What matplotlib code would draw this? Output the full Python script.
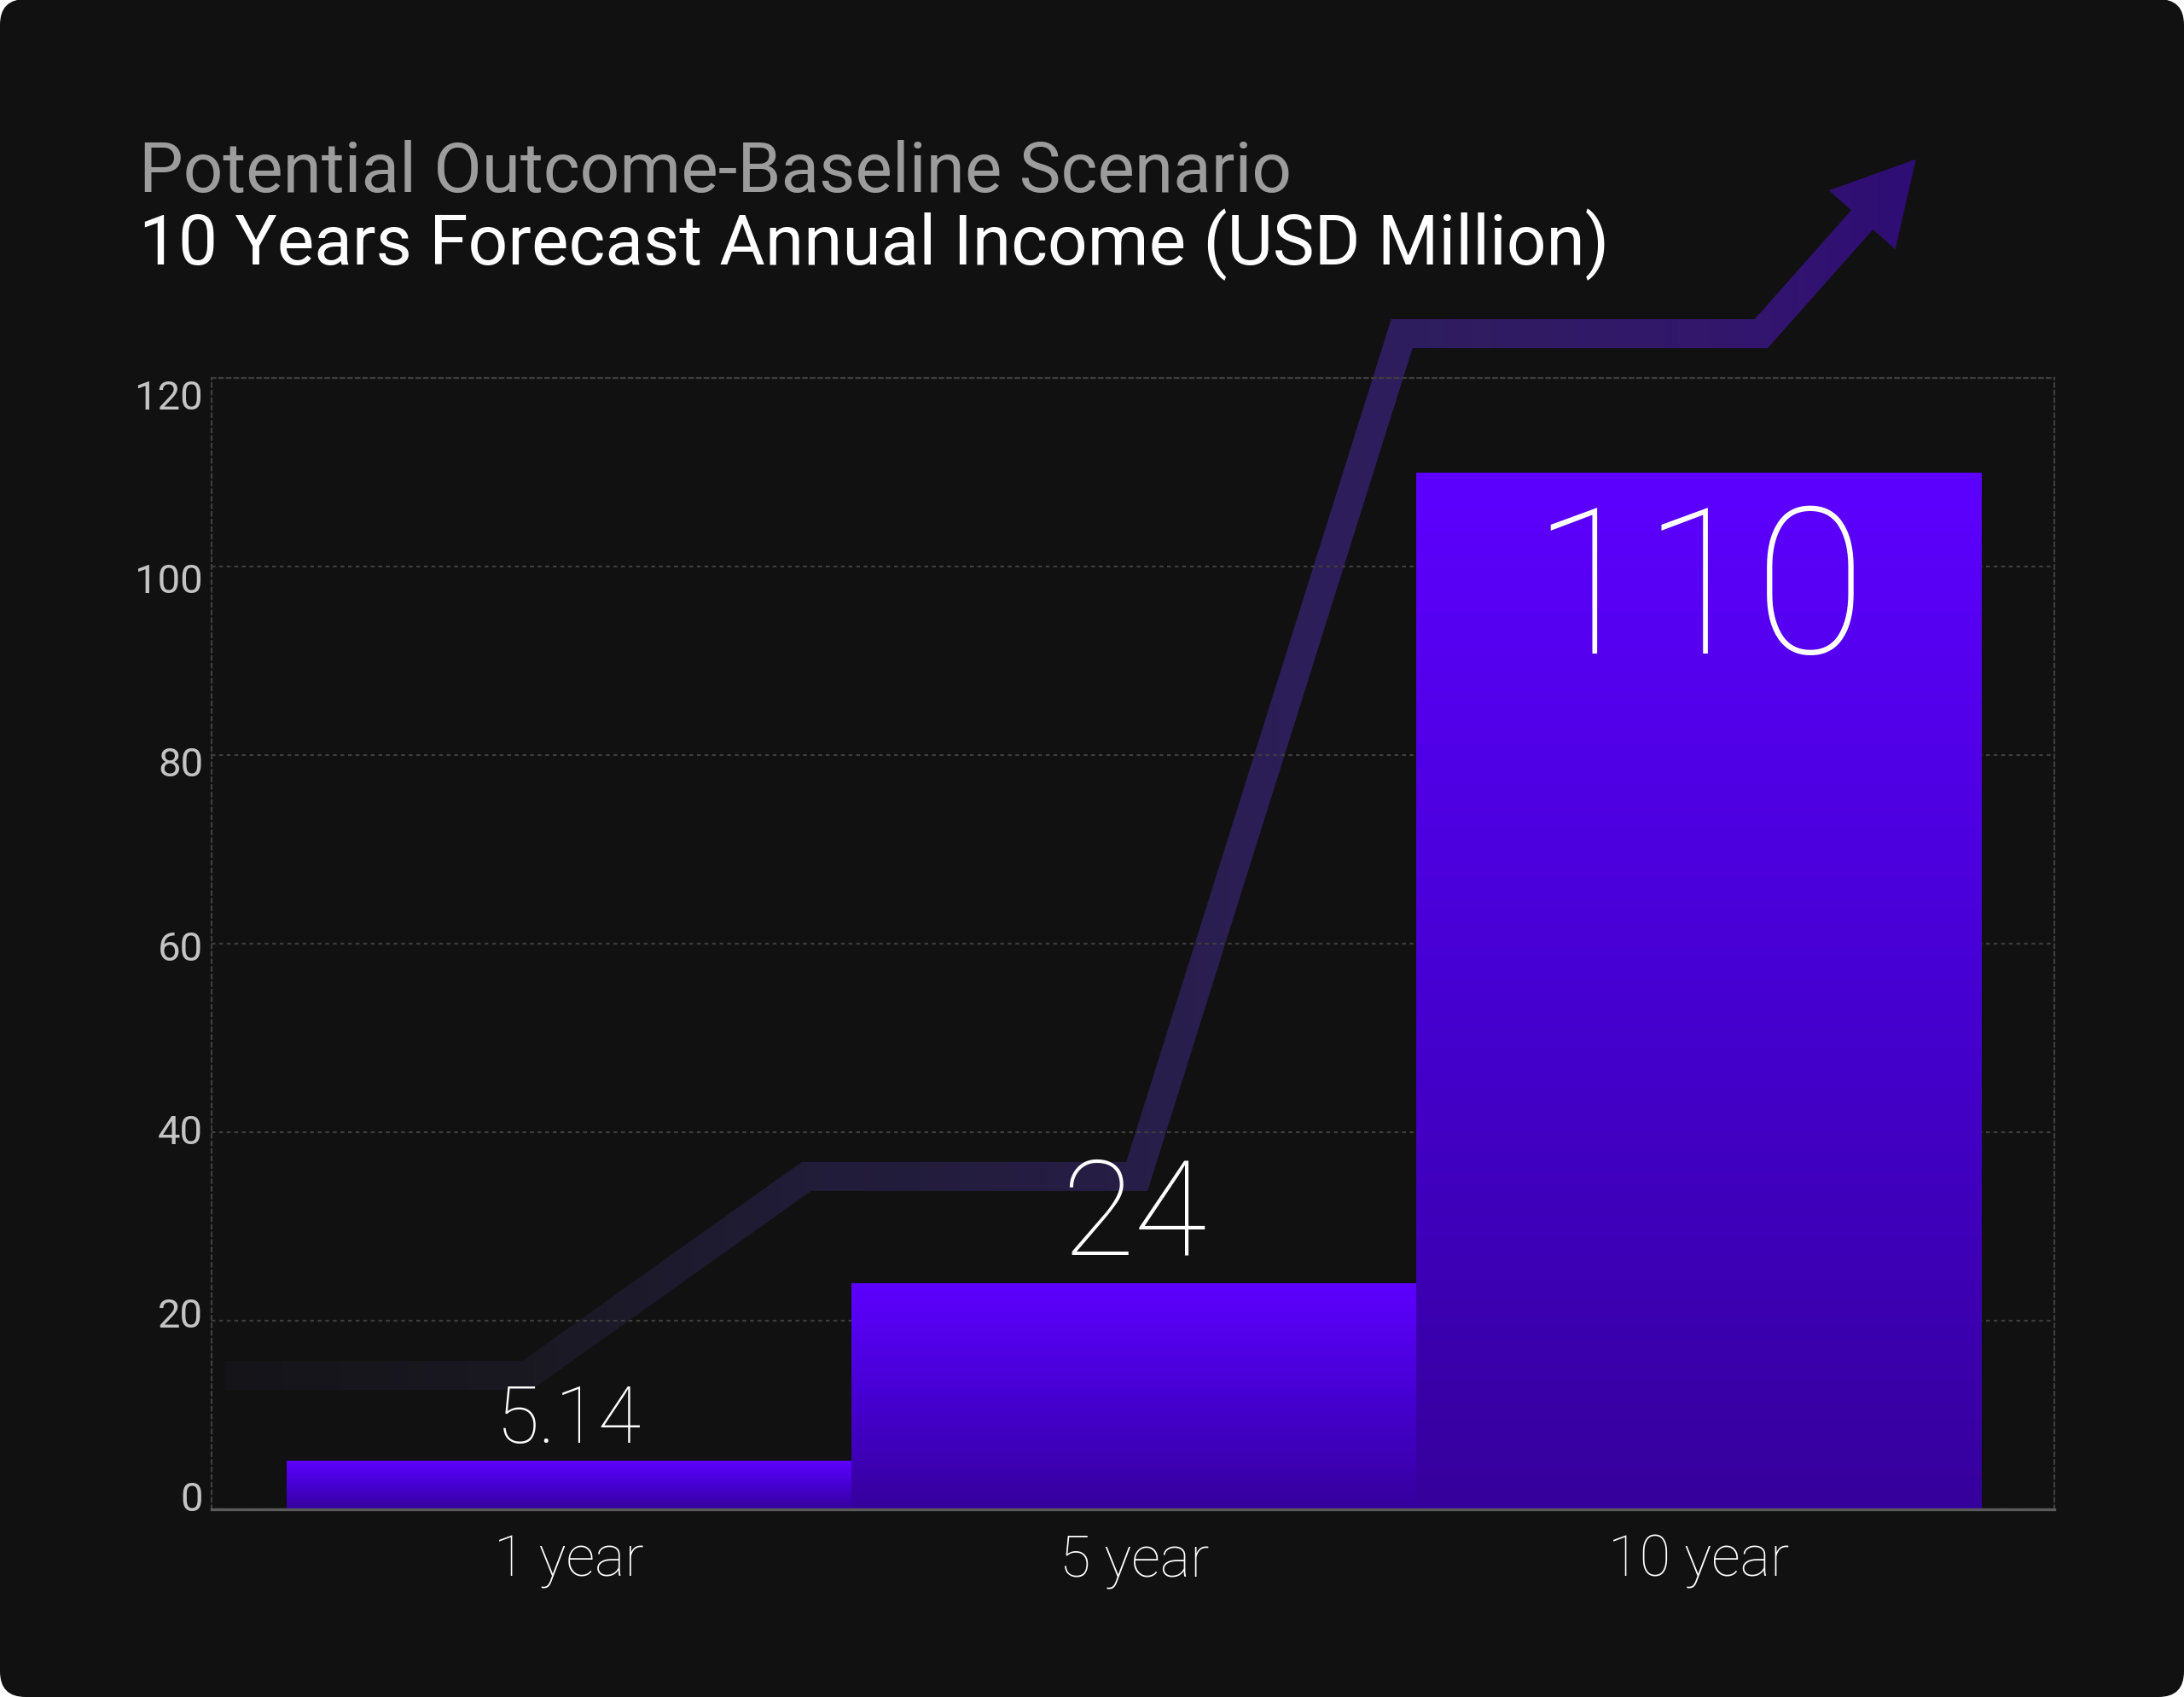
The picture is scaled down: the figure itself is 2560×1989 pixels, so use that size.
import numpy as np
import matplotlib
matplotlib.use("Agg")
import matplotlib.pyplot as plt
from matplotlib.colors import LinearSegmentedColormap
from matplotlib.patches import FancyBboxPatch, PathPatch
from matplotlib.path import Path
from matplotlib.transforms import ScaledTranslation

# ---------------- data ----------------
categories = ["1 year", "5 year", "10 year"]
values = [5.14, 24, 110]
value_labels = ["5.14", "24", "110"]
y_ticks = [0, 20, 40, 60, 80, 100, 120]
title_line1 = "Potential Outcome-Baseline Scenario"
title_line2 = "10 Years Forecast Annual Income (USD Million)"
# decorative trend arrow (data coordinates)
trend_x = [-0.61, -0.075, 0.42, 1.005, 1.474, 2.11, 2.384]
trend_y = [14.2, 14.2, 35.3, 35.3, 124.7, 124.7, 143.2]

# ---------------- figure ----------------
W, H, DPI = 2560, 1990, 200
fig = plt.figure(figsize=(W / DPI, H / DPI), dpi=DPI, facecolor="white")

bg = fig.add_axes([0, 0, 1, 1])
bg.set_xlim(0, W); bg.set_ylim(0, H); bg.axis("off"); bg.set_zorder(0)
bg.add_patch(FancyBboxPatch((0, 0), W, H, boxstyle="round,pad=0,rounding_size=30",
                            fc="#111111", ec="none"))

ax = fig.add_axes([248 / W, (H - 1770) / H, 2160 / W, 1326 / H])
ax.set_zorder(2)
ax.patch.set_alpha(0)
XL = (-0.633, 2.629)
YL = (0, 120)

# bars with vertical gradient
bar_cmap = LinearSegmentedColormap.from_list(
    "bar", [(0.0, "#36009c"), (0.5, "#4600d2"), (1.0, "#5d00ff")])
rects = ax.bar(range(len(values)), values, width=1.0, color="none", linewidth=0, zorder=2)
grad = np.linspace(0, 1, 256).reshape(-1, 1)
for r in rects:
    x0, y0 = r.get_x(), r.get_y()
    im = ax.imshow(grad, extent=[x0, x0 + r.get_width(), y0, y0 + r.get_height()],
                   origin="lower", aspect="auto", cmap=bar_cmap, zorder=2,
                   interpolation="bicubic")
    im.set_clip_path(r)
ax.set_xlim(*XL); ax.set_ylim(*YL)
ax.set_aspect("auto")

# grid / spines
ax.set_yticks(y_ticks)
ax.yaxis.grid(True, color="#3d3d3d", linestyle=(0, (2, 2)), linewidth=0.8)
ax.set_axisbelow(True)
for s in ["left", "right", "top"]:
    ax.spines[s].set_color("#3d3d3d")
    ax.spines[s].set_linestyle((0, (2, 2)))
    ax.spines[s].set_linewidth(0.8)
ax.spines["bottom"].set_color("#5a5a5a")
ax.spines["bottom"].set_linewidth(1.2)
ax.tick_params(axis="both", length=0)
ax.tick_params(axis="y", pad=3.6, labelcolor="#c4c4c4", labelsize=17)
# tick labels in the reference sit on a slightly compressed scale relative to the grid
for lab, v in zip(ax.get_yticklabels(), y_ticks):
    lab.set_family("Roboto")
    dy_px = -18 + (120 - v) / 120 * 34
    lab.set_transform(lab.get_transform() + ScaledTranslation(0, dy_px / DPI, fig.dpi_scale_trans))
ax.set_xticks(range(len(categories)))
ax.set_xticklabels(categories, color="white", fontsize=24, family="Roboto", fontweight=100)
ax.tick_params(axis="x", pad=10)

# value labels
for i, (v, t) in enumerate(zip(values, value_labels)):
    if i < 2:
        ax.annotate(t, (i, v), xytext=(0, 1), textcoords="offset points", ha="center",
                    va="bottom", color="white", fontsize=[33, 56][i], family="Roboto",
                    fontweight=100, zorder=5)
    else:
        ax.annotate(t, (i, v), xytext=(0, -76), textcoords="offset points", ha="center",
                    va="baseline", color="white", fontsize=86, family="Roboto",
                    fontweight=100, zorder=5)

# titles
fig.text(163 / W, 1 - 225 / H, title_line1, color="#9c9c9c", fontsize=29.5,
         family="Roboto", va="baseline", ha="left")
fig.text(163 / W, 1 - 310 / H, title_line2, color="white", fontsize=29.5,
         family="Roboto", va="baseline", ha="left")

# ---------------- trend arrow ----------------
deco = fig.add_axes([0, 0, 1, 1])
deco.set_zorder(1)
deco.axis("off")


def stroke_outline(pts, hw):
    pts = np.asarray(pts, float)
    dirs = np.diff(pts, axis=0)
    dirs /= np.linalg.norm(dirs, axis=1)[:, None]
    norms = np.column_stack([-dirs[:, 1], dirs[:, 0]])
    left, right = [pts[0] + norms[0] * hw], [pts[0] - norms[0] * hw]
    for i in range(1, len(pts) - 1):
        m = norms[i - 1] + norms[i]
        m /= np.linalg.norm(m)
        L = hw / np.dot(m, norms[i - 1])
        left.append(pts[i] + m * L)
        right.append(pts[i] - m * L)
    left.append(pts[-1] + norms[-1] * hw)
    right.append(pts[-1] - norms[-1] * hw)
    poly = np.vstack([left, right[::-1]])
    return np.vstack([poly, poly[:1]])


P = ax.transData.transform(np.column_stack([trend_x, trend_y]))
tip, prev = P[-1], P[-2]
d = (tip - prev) / np.linalg.norm(tip - prev)
n = np.array([-d[1], d[0]])
head_len, head_hw, hw = 95, 52, 17
base = tip - d * head_len
shaft = np.vstack([P[:-1], base + d * 1.5])
outline = stroke_outline(shaft, hw)
head = np.array([tip, base + n * head_hw, base - n * head_hw, tip])

stops_x = [250, 620, 944, 1300, 1500, 1700, 2060, 2250]
stops_c = ["#151419", "#1a1922", "#211c38", "#261e45", "#2c1f58", "#2f1d60", "#33166e", "#2e0d75"]
X0, X1 = stops_x[0], stops_x[-1]
arrow_cmap = LinearSegmentedColormap.from_list(
    "arrow", [((x - X0) / (X1 - X0), c) for x, c in zip(stops_x, stops_c)])
hgrad = np.linspace(0, 1, 512).reshape(1, -1)
for poly in (outline, head):
    pp = PathPatch(Path(poly, closed=True), fc="none", ec="none", transform=deco.transData)
    deco.add_patch(pp)
    im = deco.imshow(hgrad, extent=[X0, X1, 0, H], origin="lower", aspect="auto",
                     cmap=arrow_cmap, interpolation="bilinear")
    im.set_clip_path(pp)
deco.set_xlim(0, W); deco.set_ylim(0, H)

fig.savefig("out.png", dpi=DPI, facecolor=fig.get_facecolor())
